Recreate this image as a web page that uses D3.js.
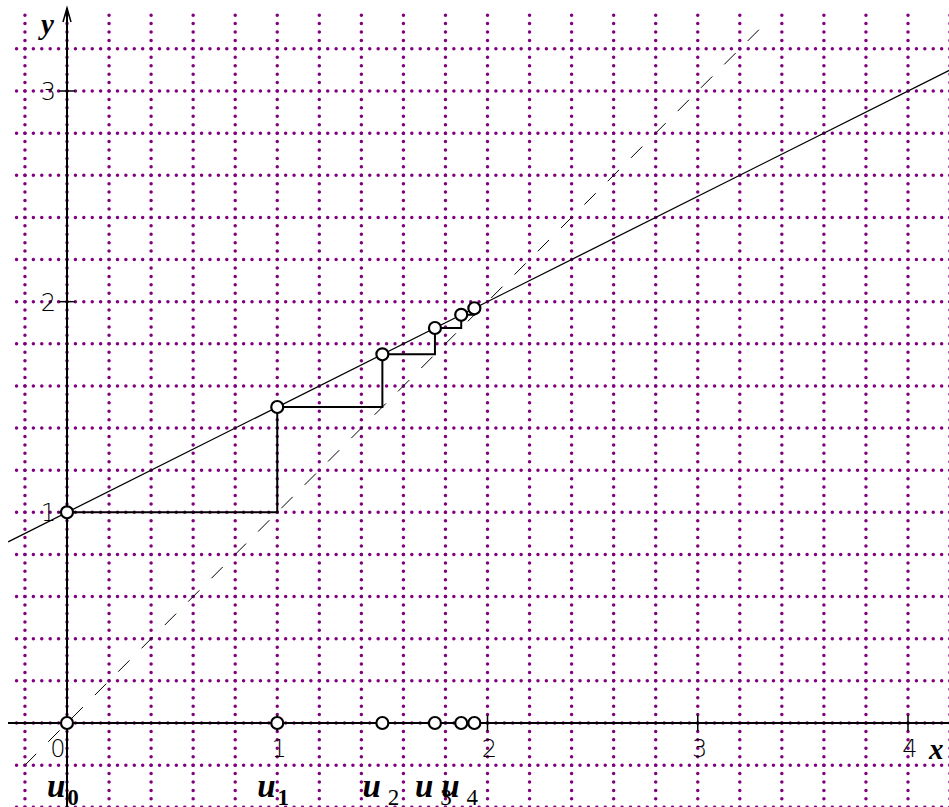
<!DOCTYPE html>
<html>
<head>
<meta charset="utf-8">
<script src="https://cdn.jsdelivr.net/npm/d3@7"></script>
<style>
  body { margin: 0; background: #fff; }
  svg { display: block; }
</style>
</head>
<body>
<svg id="chart"></svg>
<script>
const width = 949;
const height = 807;

// sequence u(n+1) = 0.5 * u(n) + 1, u0 = 0
const seqValues = [0, 1, 1.5, 1.75, 1.875, 1.9375, 1.96875];
const seqLabels = ["0", "1", "2", "3", "4"];
const xTicks = [0, 1, 2, 3, 4];
const yTicks = [1, 2, 3];
const gridX = d3.range(-1, 22).map(i => i * 0.2);   // -0.2 .. 4.2
const gridY = d3.range(-2, 17).map(i => i * 0.2);   // -0.4 .. 3.2
const lineCoef = { a: 0.5, b: 1 };

const svg = d3.select("#chart").attr("width", width).attr("height", height);

const x = d3.scaleLinear().domain([0, 4]).range([67, 908]);
const y = d3.scaleLinear().domain([0, 3]).range([723, 91]);

const dotStep = x(0.04) - x(0);
const dotStepY = y(0) - y(0.04);

// dotted grid
const grid = svg.append("g")
    .attr("stroke", "#800080")
    .attr("stroke-width", 3.5)
    .attr("stroke-linecap", "round");

grid.selectAll(".gv").data(gridX).enter().append("line")
    .attr("x1", d => x(d)).attr("x2", d => x(d))
    .attr("y1", y(-0.44)).attr("y2", y(3.36))
    .attr("stroke-dasharray", `0 ${dotStepY}`);

grid.selectAll(".gh").data(gridY).enter().append("line")
    .attr("y1", d => y(d)).attr("y2", d => y(d))
    .attr("x1", x(-0.24)).attr("x2", x(4.4))
    .attr("stroke-dasharray", `0 ${dotStep}`);

// y = x dashed
svg.append("line")
    .attr("x1", x(-0.2)).attr("y1", y(-0.2))
    .attr("x2", x(3.33)).attr("y2", y(3.33))
    .attr("stroke", "#000").attr("stroke-width", 1)
    .attr("stroke-dasharray", "16 17");

// y = 0.5x + 1
svg.append("line")
    .attr("x1", x(-0.28)).attr("y1", y(lineCoef.a * -0.28 + lineCoef.b))
    .attr("x2", x(4.4)).attr("y2", y(lineCoef.a * 4.4 + lineCoef.b))
    .attr("stroke", "#000").attr("stroke-width", 1.3);

// axes
svg.append("line")
    .attr("x1", 8).attr("x2", width).attr("y1", y(0)).attr("y2", y(0))
    .attr("stroke", "#000").attr("stroke-width", 2);
svg.append("line")
    .attr("x1", x(0)).attr("x2", x(0)).attr("y1", height).attr("y2", 8)
    .attr("stroke", "#000").attr("stroke-width", 2);
svg.append("path")
    .attr("d", `M${x(0) - 4},${22} L${x(0)},${8} L${x(0) + 4},${22}`)
    .attr("fill", "none").attr("stroke", "#000").attr("stroke-width", 1.5);

// ticks
svg.selectAll(".xt").data(xTicks.filter(d => d > 0)).enter().append("line")
    .attr("x1", d => x(d)).attr("x2", d => x(d))
    .attr("y1", y(0) - 8).attr("y2", y(0) + 8)
    .attr("stroke", "#000").attr("stroke-width", 1.5);
svg.selectAll(".yt").data(yTicks).enter().append("line")
    .attr("y1", d => y(d)).attr("y2", d => y(d))
    .attr("x1", x(0) - 8).attr("x2", x(0) + 8)
    .attr("stroke", "#000").attr("stroke-width", 1.5);

svg.selectAll(".xl").data(xTicks).enter().append("text")
    .attr("x", d => x(d) + (d === 0 ? -9 : 2))
    .attr("y", y(0) + 34)
    .attr("text-anchor", "middle")
    .style("font-family", "DejaVu Sans")
    .style("font-weight", 200)
    .style("font-size", "24px")
    .style("fill", "#000")
    .text(d => d);
svg.selectAll(".yl").data(yTicks).enter().append("text")
    .attr("x", x(0) - 11)
    .attr("y", d => y(d) + 9)
    .attr("text-anchor", "end")
    .style("font-family", "DejaVu Sans")
    .style("font-weight", 200)
    .style("font-size", "24px")
    .style("fill", "#000")
    .text(d => d);

// axis names
svg.append("text").attr("x", 41).attr("y", 34)
    .style("font-family", "Liberation Serif").style("font-weight", "bold")
    .style("font-style", "italic").style("font-size", "29px").text("y");
svg.append("text").attr("x", 929).attr("y", 759)
    .style("font-family", "Liberation Serif").style("font-weight", "bold")
    .style("font-style", "italic").style("font-size", "29px").text("x");

// staircase
let stairs = [[seqValues[0], seqValues[1]]];
for (let i = 1; i < seqValues.length - 1; i++) {
    stairs.push([seqValues[i], seqValues[i]]);
    stairs.push([seqValues[i], seqValues[i + 1]]);
}
svg.append("path")
    .attr("d", d3.line().x(d => x(d[0])).y(d => y(d[1]))(stairs))
    .attr("fill", "none").attr("stroke", "#000").attr("stroke-width", 2);

// points on the line and on the x axis
const onLine = seqValues.slice(0, -1).map((d, i) => [d, seqValues[i + 1]]);
svg.selectAll(".pl").data(onLine).enter().append("circle")
    .attr("cx", d => x(d[0])).attr("cy", d => y(d[1])).attr("r", 6)
    .attr("fill", "#fff").attr("stroke", "#000").attr("stroke-width", 2.2);
svg.selectAll(".pa").data(seqValues.slice(0, -1)).enter().append("circle")
    .attr("cx", d => x(d)).attr("cy", y(0)).attr("r", 6)
    .attr("fill", "#fff").attr("stroke", "#000").attr("stroke-width", 2.2);

// u_n labels
const lab = svg.selectAll(".ul").data(seqLabels).enter().append("text")
    .attr("x", (d, i) => x(seqValues[i]) - 20)
    .attr("y", 797)
    .style("font-family", "Liberation Serif")
    .style("font-weight", "bold")
    .style("font-size", "33px");
lab.append("tspan").style("font-style", "italic").text("u");
lab.append("tspan")
    .attr("dx", (d, i) => i < 2 ? 2 : 7)
    .attr("dy", 8)
    .style("font-size", "23px")
    .style("font-weight", (d, i) => i < 2 ? "bold" : "normal")
    .text(d => d);
</script>
</body>
</html>
